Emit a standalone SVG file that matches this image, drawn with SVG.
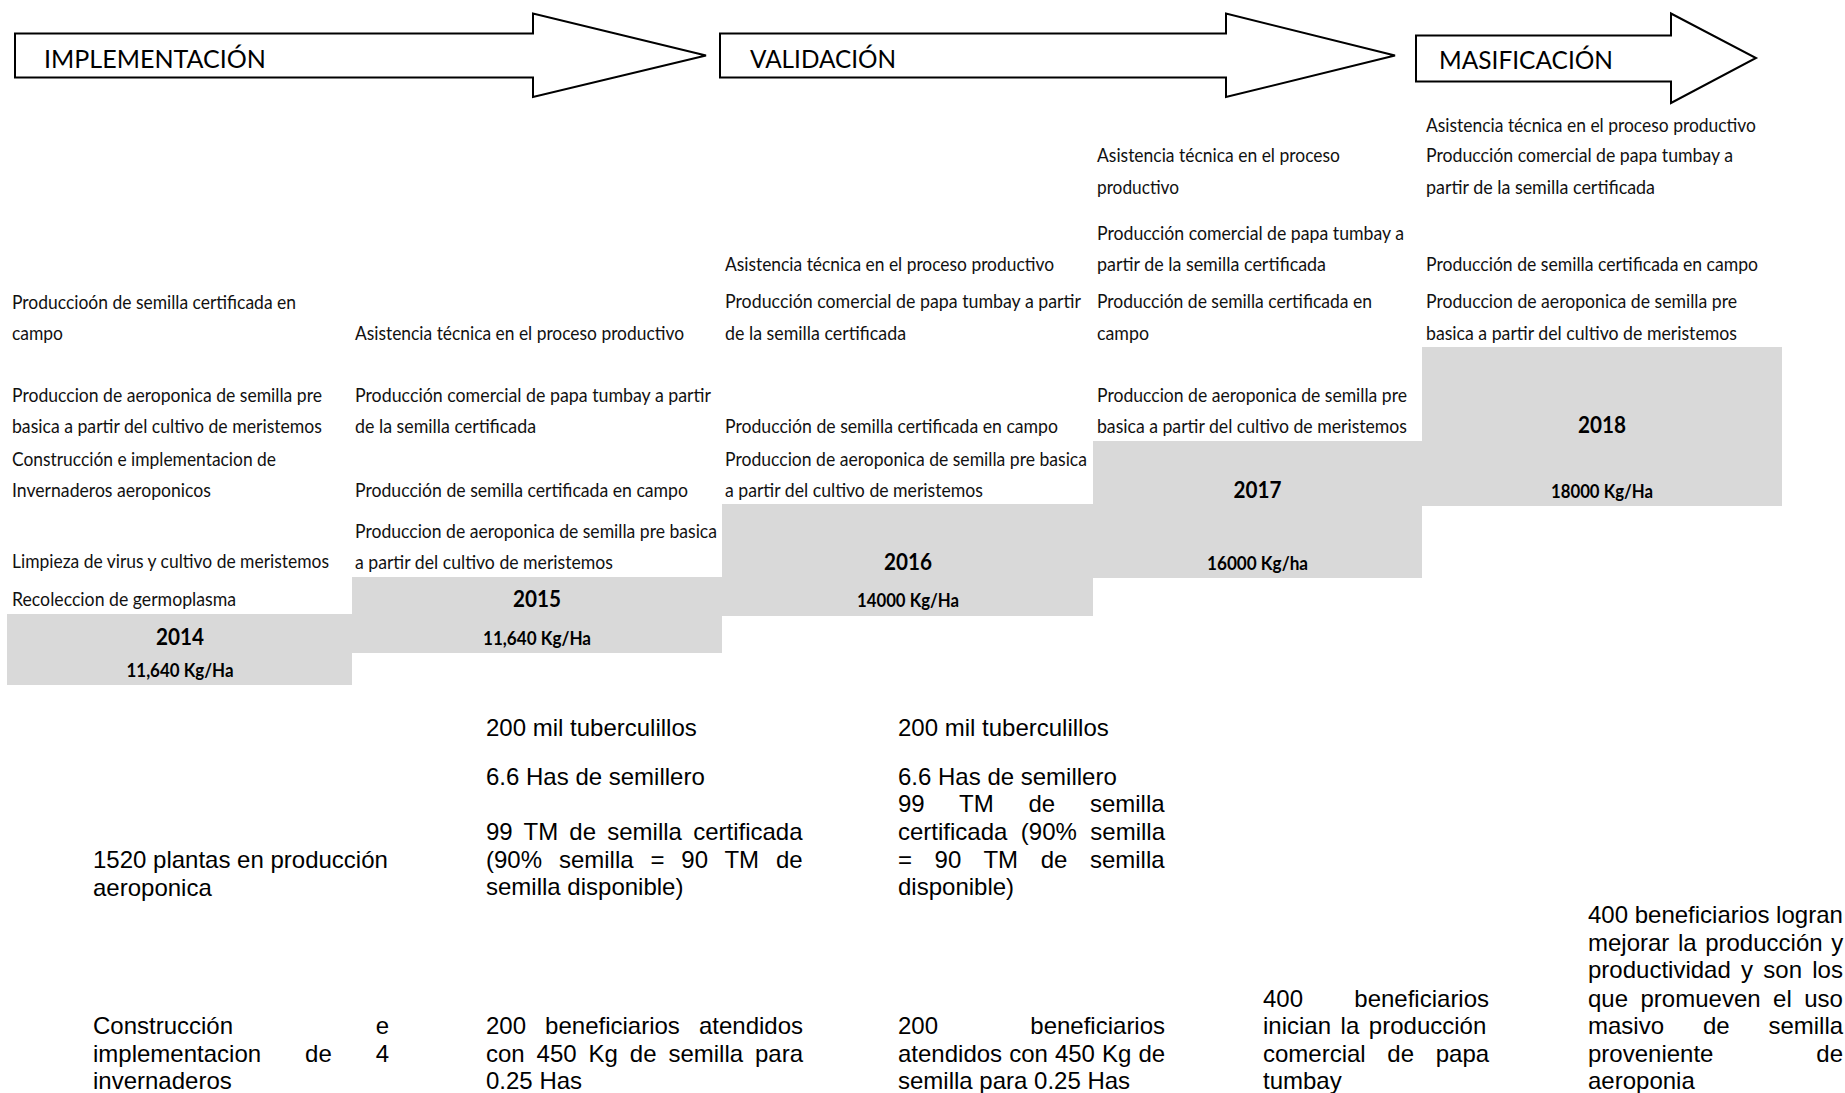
<svg xmlns="http://www.w3.org/2000/svg" width="1845" height="1093" viewBox="0 0 1845 1093">
<style>
.arrow{fill:#fff;stroke:#000;stroke-width:2;stroke-linejoin:miter}
.hdr{font-family:Lato,'Liberation Sans',sans-serif;font-size:25px;fill:#000}
.act{font-family:Lato,'Liberation Sans',sans-serif;font-size:20px;fill:#111}
.yr{font-family:Lato,'Liberation Sans',sans-serif;font-weight:700;font-size:23px;fill:#000;text-anchor:middle}
.kg{font-family:Lato,'Liberation Sans',sans-serif;font-weight:700;font-size:19px;fill:#000;text-anchor:middle}
.res{font-family:'Liberation Sans',Arial,sans-serif;font-size:24px;fill:#000}
.step{fill:#d9d9d9}
</style>
<rect width="1845" height="1093" fill="#fff"/>

<g id="phase-implementacion">
<polygon class="arrow" points="15,33.5 533,33.5 533,13.5 706,55.5 533,97 533,77.5 15,77.5"/>
<text class="hdr" x="44" y="68" textLength="222" lengthAdjust="spacingAndGlyphs">IMPLEMENTACIÓN</text>
</g>
<g id="phase-validacion">
<polygon class="arrow" points="720,33.5 1226,33.5 1226,13.5 1395,55.5 1226,97 1226,77.5 720,77.5"/>
<text class="hdr" x="750" y="68" textLength="146" lengthAdjust="spacingAndGlyphs">VALIDACIÓN</text>
</g>
<g id="phase-masificacion">
<polygon class="arrow" points="1416,35.5 1671,35.5 1671,13.5 1756,58 1671,103 1671,81.5 1416,81.5"/>
<text class="hdr" x="1439" y="69" textLength="174" lengthAdjust="spacingAndGlyphs">MASIFICACIÓN</text>
</g>

<g id="year-2014">
<rect class="step" x="7" y="614" width="345" height="71"/>
<text class="act" x="12" y="309" textLength="284" lengthAdjust="spacingAndGlyphs">Produccioón de semilla certificada en</text>
<text class="act" x="12" y="340" textLength="51" lengthAdjust="spacingAndGlyphs">campo</text>
<text class="act" x="12" y="402" textLength="310" lengthAdjust="spacingAndGlyphs">Produccion de aeroponica de semilla pre</text>
<text class="act" x="12" y="433" textLength="310" lengthAdjust="spacingAndGlyphs">basica a partir del cultivo de meristemos</text>
<text class="act" x="12" y="466" textLength="264" lengthAdjust="spacingAndGlyphs">Construcción e implementacion de</text>
<text class="act" x="12" y="497" textLength="199" lengthAdjust="spacingAndGlyphs">Invernaderos aeroponicos</text>
<text class="act" x="12" y="568" textLength="317" lengthAdjust="spacingAndGlyphs">Limpieza de virus y cultivo de meristemos</text>
<text class="act" x="12" y="606" textLength="224" lengthAdjust="spacingAndGlyphs">Recoleccion de germoplasma</text>
<text class="yr" x="180" y="645" textLength="48" lengthAdjust="spacingAndGlyphs">2014</text>
<text class="kg" x="180" y="677" textLength="107" lengthAdjust="spacingAndGlyphs">11,640 Kg/Ha</text>
</g>

<g id="year-2015">
<rect class="step" x="352" y="577" width="370" height="76"/>
<text class="act" x="355" y="340" textLength="329" lengthAdjust="spacingAndGlyphs">Asistencia técnica en el proceso productivo</text>
<text class="act" x="355" y="402" textLength="356" lengthAdjust="spacingAndGlyphs">Producción comercial de papa tumbay a partir</text>
<text class="act" x="355" y="433" textLength="181" lengthAdjust="spacingAndGlyphs">de la semilla certificada</text>
<text class="act" x="355" y="497" textLength="333" lengthAdjust="spacingAndGlyphs">Producción de semilla certificada en campo</text>
<text class="act" x="355" y="538" textLength="362" lengthAdjust="spacingAndGlyphs">Produccion de aeroponica de semilla pre basica</text>
<text class="act" x="355" y="569" textLength="258" lengthAdjust="spacingAndGlyphs">a partir del cultivo de meristemos</text>
<text class="yr" x="537" y="607" textLength="48" lengthAdjust="spacingAndGlyphs">2015</text>
<text class="kg" x="537" y="645" textLength="108" lengthAdjust="spacingAndGlyphs">11,640 Kg/Ha</text>
</g>

<g id="year-2016">
<rect class="step" x="722" y="504" width="371" height="112"/>
<text class="act" x="725" y="271" textLength="329" lengthAdjust="spacingAndGlyphs">Asistencia técnica en el proceso productivo</text>
<text class="act" x="725" y="308" textLength="356" lengthAdjust="spacingAndGlyphs">Producción comercial de papa tumbay a partir</text>
<text class="act" x="725" y="340" textLength="181" lengthAdjust="spacingAndGlyphs">de la semilla certificada</text>
<text class="act" x="725" y="433" textLength="333" lengthAdjust="spacingAndGlyphs">Producción de semilla certificada en campo</text>
<text class="act" x="725" y="466" textLength="362" lengthAdjust="spacingAndGlyphs">Produccion de aeroponica de semilla pre basica</text>
<text class="act" x="725" y="497" textLength="258" lengthAdjust="spacingAndGlyphs">a partir del cultivo de meristemos</text>
<text class="yr" x="908" y="570" textLength="48" lengthAdjust="spacingAndGlyphs">2016</text>
<text class="kg" x="908" y="607" textLength="102" lengthAdjust="spacingAndGlyphs">14000 Kg/Ha</text>
</g>

<g id="year-2017">
<rect class="step" x="1093" y="441" width="329" height="137"/>
<text class="act" x="1097" y="162" textLength="243" lengthAdjust="spacingAndGlyphs">Asistencia técnica en el proceso</text>
<text class="act" x="1097" y="194" textLength="82" lengthAdjust="spacingAndGlyphs">productivo</text>
<text class="act" x="1097" y="240" textLength="307" lengthAdjust="spacingAndGlyphs">Producción comercial de papa tumbay a</text>
<text class="act" x="1097" y="271" textLength="229" lengthAdjust="spacingAndGlyphs">partir de la semilla certificada</text>
<text class="act" x="1097" y="308" textLength="275" lengthAdjust="spacingAndGlyphs">Producción de semilla certificada en</text>
<text class="act" x="1097" y="340" textLength="52" lengthAdjust="spacingAndGlyphs">campo</text>
<text class="act" x="1097" y="402" textLength="310" lengthAdjust="spacingAndGlyphs">Produccion de aeroponica de semilla pre</text>
<text class="act" x="1097" y="433" textLength="310" lengthAdjust="spacingAndGlyphs">basica a partir del cultivo de meristemos</text>
<text class="yr" x="1257.5" y="498" textLength="48" lengthAdjust="spacingAndGlyphs">2017</text>
<text class="kg" x="1257.5" y="570" textLength="101" lengthAdjust="spacingAndGlyphs">16000 Kg/ha</text>
</g>

<g id="year-2018">
<rect class="step" x="1422" y="347" width="360" height="159"/>
<text class="act" x="1426" y="132" textLength="330" lengthAdjust="spacingAndGlyphs">Asistencia técnica en el proceso productivo</text>
<text class="act" x="1426" y="162" textLength="307" lengthAdjust="spacingAndGlyphs">Producción comercial de papa tumbay a</text>
<text class="act" x="1426" y="194" textLength="229" lengthAdjust="spacingAndGlyphs">partir de la semilla certificada</text>
<text class="act" x="1426" y="271" textLength="332" lengthAdjust="spacingAndGlyphs">Producción de semilla certificada en campo</text>
<text class="act" x="1426" y="308" textLength="311" lengthAdjust="spacingAndGlyphs">Produccion de aeroponica de semilla pre</text>
<text class="act" x="1426" y="340" textLength="311" lengthAdjust="spacingAndGlyphs">basica a partir del cultivo de meristemos</text>
<text class="yr" x="1602" y="433" textLength="48" lengthAdjust="spacingAndGlyphs">2018</text>
<text class="kg" x="1602" y="498" textLength="102" lengthAdjust="spacingAndGlyphs">18000 Kg/Ha</text>
</g>

<g id="results-2014">
<text class="res" x="93" y="868">1520 plantas en producción</text>
<text class="res" x="93" y="895.5">aeroponica</text>
<text class="res" x="93" y="1034" word-spacing="136">Construcción e</text>
<text class="res" x="93" y="1061.5" word-spacing="37.3">implementacion de 4</text>
<text class="res" x="93" y="1089">invernaderos</text>
</g>

<g id="results-2015">
<text class="res" x="486" y="736">200 mil tuberculillos</text>
<text class="res" x="486" y="785">6.6 Has de semillero</text>
<text class="res" x="486" y="840" word-spacing="4.55">99 TM de semilla certificada</text>
<text class="res" x="486" y="867.6" word-spacing="10.2">(90% semilla = 90 TM de</text>
<text class="res" x="486" y="895.2">semilla disponible)</text>
<text class="res" x="486" y="1034" word-spacing="12.4">200 beneficiarios atendidos</text>
<text class="res" x="486" y="1061.5" word-spacing="5.24">con 450 Kg de semilla para</text>
<text class="res" x="486" y="1089">0.25 Has</text>
</g>

<g id="results-2016">
<text class="res" x="898" y="736">200 mil tuberculillos</text>
<text class="res" x="898" y="785">6.6 Has de semillero</text>
<text class="res" x="898" y="812.4" word-spacing="28.1">99 TM de semilla</text>
<text class="res" x="898" y="840" word-spacing="6.8">certificada (90% semilla</text>
<text class="res" x="898" y="867.6" word-spacing="15.9">= 90 TM de semilla</text>
<text class="res" x="898" y="895.2">disponible)</text>
<text class="res" x="898" y="1034" word-spacing="85.6">200 beneficiarios</text>
<text class="res" x="898" y="1061.5" word-spacing="0.4">atendidos con 450 Kg de</text>
<text class="res" x="898" y="1089">semilla para 0.25 Has</text>
</g>

<g id="results-2017">
<text class="res" x="1263" y="1006.5" word-spacing="44.6">400 beneficiarios</text>
<text class="res" x="1263" y="1034" word-spacing="2.9">inician la producción</text>
<text class="res" x="1263" y="1061.5" word-spacing="15">comercial de papa</text>
<text class="res" x="1263" y="1089">tumbay</text>
</g>

<g id="results-2018">
<text class="res" x="1588" y="923">400 beneficiarios logran</text>
<text class="res" x="1588" y="950.5" word-spacing="1.9">mejorar la producción y</text>
<text class="res" x="1588" y="978" word-spacing="3.6">productividad y son los</text>
<text class="res" x="1588" y="1006.5" word-spacing="5.8">que promueven el uso</text>
<text class="res" x="1588" y="1034" word-spacing="32.2">masivo de semilla</text>
<text class="res" x="1588" y="1061.5" word-spacing="96.2">proveniente de</text>
<text class="res" x="1588" y="1089">aeroponia</text>
</g>

<g id="connectors"></g>
</svg>
